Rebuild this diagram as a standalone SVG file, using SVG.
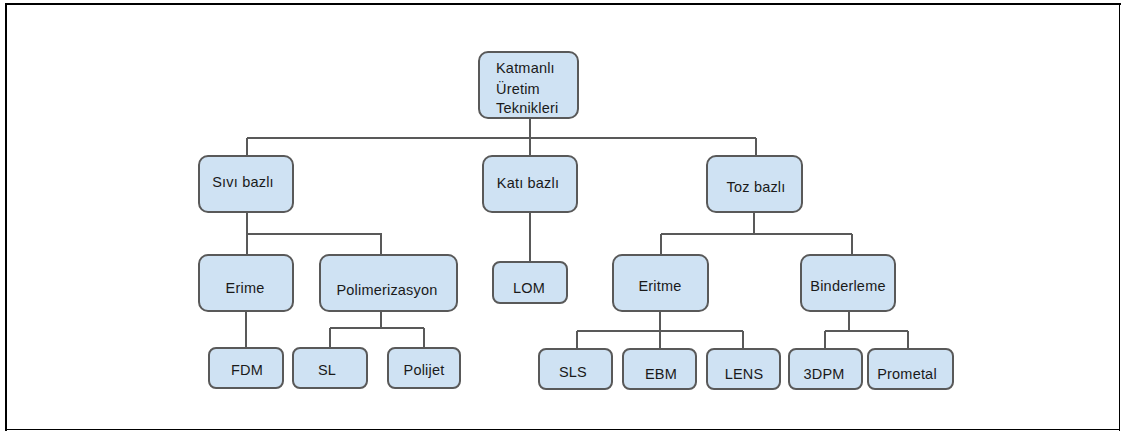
<svg xmlns="http://www.w3.org/2000/svg" width="1121" height="431" viewBox="0 0 1121 431">
<style>
.n{fill:#cfe2f3;stroke:#595959;stroke-width:2}
.t{font-family:"Liberation Sans",Arial,sans-serif;font-size:14.5px;fill:#1a1a1a;text-anchor:middle;letter-spacing:0.2px}
.tl{font-family:"Liberation Sans",Arial,sans-serif;font-size:14.5px;fill:#1a1a1a;letter-spacing:0.2px}
.c{fill:none;stroke:#595959;stroke-width:2}
</style>
<rect x="0" y="0" width="1121" height="431" fill="#ffffff"/>
<g id="frame">
<rect x="5" y="3" width="2" height="428" fill="#000"/>
<rect x="5" y="3" width="1116" height="2" fill="#000"/>
<rect x="1119" y="3" width="1" height="428" fill="#000"/>
<rect x="5" y="429" width="1115" height="1" fill="#000"/>
</g>
<g id="connectors">
<path class="c" d="M530,118V138M247,138H756M247,138V156M530,138V156M756,138V156"/>
<path class="c" d="M247,212V234H381V255M247,234V255"/>
<path class="c" d="M530,212V262"/>
<path class="c" d="M754,212V234M661,234H852M661,234V255M852,234V255"/>
<path class="c" d="M246,311V348"/>
<path class="c" d="M381,311V328M330,328H424M330,328V348M424,328V348"/>
<path class="c" d="M660,311V349M577,331H743M577,331V349M660,331V349M743,331V349"/>
<path class="c" d="M849,311V331M825,331H908M825,331V349M908,331V349"/>
</g>
<g id="root"><rect class="n" x="479" y="52" width="99" height="66" rx="9"/>
<text class="tl" x="496" y="73">Katmanlı</text><text class="tl" x="496" y="94">Üretim</text><text class="tl" x="496" y="113">Teknikleri</text></g>
<g id="sivi"><rect class="n" x="199" y="156" width="94" height="56" rx="9"/><text class="t" x="243" y="187">Sıvı bazlı</text></g>
<g id="kati"><rect class="n" x="483" y="156" width="94" height="56" rx="9"/><text class="t" x="528" y="188">Katı bazlı</text></g>
<g id="toz"><rect class="n" x="707" y="156" width="95" height="56" rx="9"/><text class="t" x="756" y="192">Toz bazlı</text></g>
<g id="erime"><rect class="n" x="199" y="255" width="94" height="56" rx="9"/><text class="t" x="245" y="293">Erime</text></g>
<g id="polimer"><rect class="n" x="320" y="255" width="137" height="56" rx="9"/><text class="t" x="387" y="295">Polimerizasyon</text></g>
<g id="lom"><rect class="n" x="493" y="262" width="74" height="41" rx="7"/><text class="t" x="529" y="293">LOM</text></g>
<g id="eritme"><rect class="n" x="613" y="255" width="95" height="56" rx="9"/><text class="t" x="660" y="291">Eritme</text></g>
<g id="binder"><rect class="n" x="801" y="255" width="94" height="56" rx="9"/><text class="t" x="848" y="291">Binderleme</text></g>
<g id="fdm"><rect class="n" x="209" y="348" width="74" height="40" rx="7"/><text class="t" x="247" y="375">FDM</text></g>
<g id="sl"><rect class="n" x="293" y="348" width="74" height="40" rx="7"/><text class="t" x="327" y="375">SL</text></g>
<g id="polijet"><rect class="n" x="388" y="348" width="72" height="40" rx="7"/><text class="t" x="424" y="375">Polijet</text></g>
<g id="sls"><rect class="n" x="539" y="349" width="73" height="40" rx="7"/><text class="t" x="573" y="377">SLS</text></g>
<g id="ebm"><rect class="n" x="623" y="349" width="73" height="40" rx="7"/><text class="t" x="661" y="379">EBM</text></g>
<g id="lens"><rect class="n" x="707" y="349" width="73" height="40" rx="7"/><text class="t" x="744" y="379">LENS</text></g>
<g id="dpm"><rect class="n" x="789" y="349" width="73" height="40" rx="7"/><text class="t" x="824" y="379">3DPM</text></g>
<g id="prometal"><rect class="n" x="868" y="349" width="85" height="40" rx="7"/><text class="t" x="907" y="379">Prometal</text></g>
</svg>
